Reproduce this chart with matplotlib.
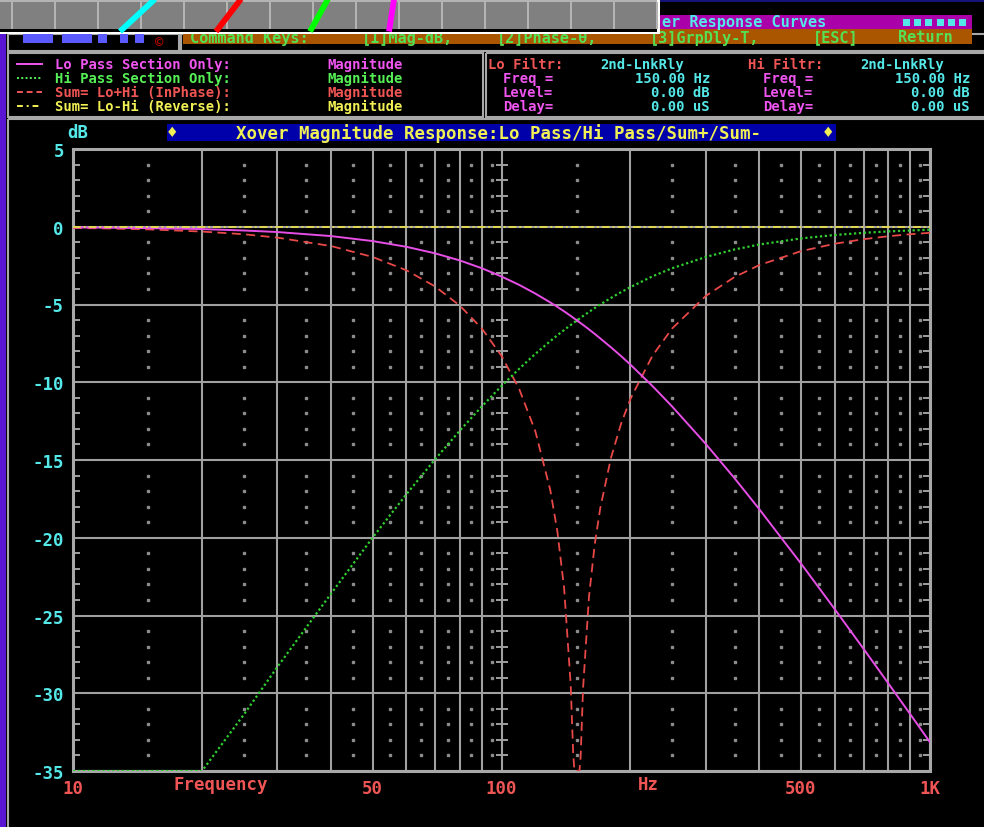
import matplotlib
matplotlib.use("Agg")
import matplotlib.pyplot as plt
from matplotlib.patches import Rectangle
from matplotlib.ticker import NullLocator

plt.rcParams["font.family"] = ["DejaVu Sans Mono", "DejaVu Sans"]
plt.rcParams["font.weight"] = "bold"
plt.rcParams["axes.unicode_minus"] = False

# 16-colour text-mode palette
BG = "#000000"
FRAME = "#a8a8a8"
GRID = "#a0a0a0"
CYAN = "#55e8e8"
MAGENTA = "#f055f0"
GREEN = "#55f055"
RED = "#f05555"
YELLOW = "#f0f055"
NAVY = "#0000aa"
FS = 12.5        # axis labels and title
PANEL_FS = 10    # tightly packed panel rows (14 px line pitch)

# crossover response, dB (display floor is -35 dB)
freq_hz = [10, 12, 15, 20, 25, 30, 40, 50, 60, 70, 80, 90, 100, 110, 120, 130,
           135, 140, 145, 147, 148, 150, 152, 153, 155, 160, 165, 170, 180, 190,
           200, 225, 250, 300, 350, 400, 500, 600, 700, 800, 900, 1000]
lo_pass_db = [-0.04, -0.06, -0.09, -0.15, -0.24, -0.34, -0.60, -0.92, -1.29,
              -1.71, -2.17, -2.67, -3.20, -3.74, -4.30, -4.87, -5.15, -5.44,
              -5.73, -5.85, -5.91, -6.02, -6.14, -6.20, -6.31, -6.60, -6.89,
              -7.18, -7.75, -8.31, -8.87, -10.24, -11.55, -13.98, -16.18,
              -18.18, -21.66, -24.61, -27.15, -29.38, -31.36, -33.15]
hi_pass_db = [-35.0, -35.0, -35.0, -35.0, -31.4, -28.3, -23.6, -20.0, -17.2,
              -14.95, -13.1, -11.55, -10.24, -9.13, -8.17, -7.35, -6.98, -6.64,
              -6.32, -6.20, -6.14, -6.02, -5.91, -5.85, -5.74, -5.48, -5.23,
              -5.00, -4.58, -4.21, -3.88, -3.19, -2.67, -1.94, -1.46, -1.14,
              -0.75, -0.53, -0.39, -0.30, -0.24, -0.19]
sum_inphase_db = [-0.08, -0.11, -0.17, -0.31, -0.48, -0.70, -1.24, -1.94, -2.80,
                  -3.84, -5.08, -6.55, -8.30, -10.44, -13.17, -16.95, -19.58,
                  -23.24, -29.40, -33.9, -35.0, -35.0, -35.0, -34.07, -29.69,
                  -23.81, -20.44, -18.10, -14.88, -12.69, -11.06, -8.30, -6.55,
                  -4.44, -3.23, -2.46, -1.57, -1.09, -0.80, -0.61, -0.48, -0.39]
rev_freq_hz = [10, 1000]
sum_reverse_db = [0.0, 0.0]

grid_freqs = [10, 20, 30, 40, 50, 60, 70, 80, 90, 100,
              200, 300, 400, 500, 600, 700, 800, 900, 1000]
freq_labels = {10: "10", 50: "50", 100: "100", 500: "500", 1000: "1K"}
db_ticks = [5, 0, -5, -10, -15, -20, -25, -30, -35]
dot_freqs = [15, 25, 35, 45, 55, 65, 75, 85, 95,
             150, 250, 350, 450, 550, 650, 750, 850, 950]
dot_levels = [v for v in range(-34, 5) if v % 5 != 0]

legend_rows = [
    ("Lo Pass Section Only:", MAGENTA, "-"),
    ("Hi Pass Section Only:", GREEN, (0, (1, 1.2))),
    ("Sum= Lo+Hi (InPhase):", RED, (0, (3, 2))),
    ("Sum= Lo-Hi (Reverse):", YELLOW, (0, (3, 2, 1, 2))),
]
info_labels = ["Freq =", "Level=", "Delay="]
lo_values = ["150.00 Hz", "0.00 dB", "0.00 uS"]
hi_values = ["150.00 Hz", "0.00 dB", "0.00 uS"]
command_keys = [("Command Keys:", 190), ("[1]Mag-dB,", 362), ("[2]Phase-θ,", 497),
                ("[3]GrpDly-T,", 650), ("[ESC]", 813), ("Return", 898)]

fig = plt.figure(figsize=(9.84, 8.28), dpi=100, facecolor=BG)

# screen furniture, drawn in pixel coordinates
deco = fig.add_axes([0, 0, 1, 1])
deco.set_xlim(0, 984)
deco.set_ylim(828, 0)
deco.axis("off")


def box(x0, y0, x1, y1, fc="none", ec="none", lw=1.5, z=2):
    deco.add_patch(Rectangle((x0, y0), x1 - x0, y1 - y0, facecolor=fc,
                             edgecolor=ec, linewidth=lw, zorder=z))


def dos(x, y, s, color, ha="left", size=FS, va="center", z=3):
    deco.text(x, y, s, color=color, ha=ha, va=va, fontsize=size,
              fontweight="bold", zorder=z)


# left purple rail and panel borders
box(0, 35, 5.5, 828, fc="#5a14d4")
box(7.5, 35, 179, 51.5, ec=FRAME)
box(181, 35, 995, 51.5, ec=FRAME)
box(7.5, 54, 483, 118, ec=FRAME)
box(485.5, 54, 995, 117.5, ec=FRAME)
box(7.5, 120, 995, 840, ec=FRAME)

# header bars
box(660, 0, 984, 3, fc="#141478")
box(660, 16, 972, 30, fc="#aa00aa")
dos(662, 23, "er Response Curves", CYAN, size=11)
for i in range(6):
    box(903 + 11.2 * i, 19.5, 910 + 11.2 * i, 26.5, fc=CYAN)
box(183, 30, 972, 45, fc="#aa5500")
for txt, x in command_keys:
    dos(x, 42.5, txt, "#55e055", va="baseline", size=11)

# logo remnants
for x0, x1 in [(23, 53), (62, 92), (98, 107), (120, 128), (135, 144)]:
    box(x0, 35, x1, 43.5, fc="#5a5aff")
deco.text(159, 43, "©", color="#b00000", ha="center", va="center", fontsize=10,
          fontweight="bold")

# overlapping grey palette window at the top
box(0, 0, 660, 35, fc="white", z=6)
box(0, 0, 657, 30, fc="#808080", z=6)
box(0, 0, 657, 3, fc="#b4b4b4", z=6)
box(0, 30, 657, 32.5, fc=BG, z=6)
for x in range(12, 658, 43):
    box(x - 1, 3, x + 1, 30, fc="#b4b4b4", z=6)
for (xa, xb), c in zip([(120, 155), (216, 241), (310, 328), (389, 394)],
                       ["#00ffff", "#ff0000", "#00ff00", "#ff00ff"]):
    deco.plot([xa, xb], [32.5, 0], color=c, lw=4.2, solid_capstyle="butt", zorder=7)

# legend panel
row_y = [65, 79, 93, 107]
for (label, color, ls), y in zip(legend_rows, row_y):
    deco.plot([17, 42], [y, y], color=color, lw=1.4, linestyle=ls, zorder=3)
    dos(55, y, label, color, size=PANEL_FS)
    dos(327, y, "Magnitude", color, size=PANEL_FS)

# filter settings panel
dos(488, row_y[0], "Lo Filtr:", RED, size=PANEL_FS)
dos(600, row_y[0], "2nd-LnkRly", CYAN, size=PANEL_FS)
dos(748, row_y[0], "Hi Filtr:", RED, size=PANEL_FS)
dos(860, row_y[0], "2nd-LnkRly", CYAN, size=PANEL_FS)
for lab, lv, hv, y in zip(info_labels, lo_values, hi_values, row_y[1:]):
    dos(503, y, lab, MAGENTA, size=PANEL_FS)
    dos(710, y, lv, CYAN, ha="right", size=PANEL_FS)
    dos(763, y, lab, MAGENTA, size=PANEL_FS)
    dos(970, y, hv, CYAN, ha="right", size=PANEL_FS)

# plot title bar
box(167, 125, 836, 142, fc=NAVY)
dos(172, 133.5, "♦", YELLOW, ha="center")
dos(499, 133.5, "Xover Magnitude Response:Lo Pass/Hi Pass/Sum+/Sum-", YELLOW,
    ha="center")
dos(828, 133.5, "♦", YELLOW, ha="center")
dos(78, 133.5, "dB", CYAN, ha="center")
dos(221, 785, "Frequency", RED, ha="center")
dos(648, 785, "Hz", RED, ha="center")

# response plot
ax = fig.add_axes([73 / 984, 56 / 828, 857 / 984, 622 / 828])
ax.set_facecolor("none")
ax.set_xscale("log")
ax.set_xlim(10, 1000)
ax.set_ylim(-35, 5)
ax.set_xticks(grid_freqs, labels=[freq_labels.get(f, "") for f in grid_freqs])
ax.xaxis.set_minor_locator(NullLocator())
ax.set_yticks(db_ticks, labels=[str(v) for v in db_ticks])
ax.set_yticks(dot_levels, minor=True)
ax.set_axisbelow(True)
ax.grid(True, which="major", color=GRID, linewidth=1.5)
ax.tick_params(which="major", length=0, labelsize=FS)
ax.tick_params(axis="x", labelcolor=RED, pad=6)
ax.tick_params(axis="y", labelcolor=CYAN, pad=6.5)
ax.tick_params(axis="y", which="minor", direction="in", length=5, width=1.4,
               color=GRID, left=True, right=True)
for sp in ax.spines.values():
    sp.set_color(FRAME)
    sp.set_linewidth(2.2)

dx = [f for f in dot_freqs for _ in dot_levels]
dy = [v for _ in dot_freqs for v in dot_levels]
ax.plot(dx, dy, ls="none", marker="s", ms=1.5, color="#8c8c8c", zorder=1.5)
ax.plot([100] * len(dot_levels), dot_levels, ls="none", marker="_", ms=8,
        mew=1.4, color=GRID, zorder=1.5)

ax.plot(freq_hz, sum_inphase_db, color="#e84848", lw=1.3, ls=(0, (5, 3)), zorder=3)
ax.plot(freq_hz, hi_pass_db, color="#30d030", lw=1.6, ls=(0, (1, 1.2)), zorder=3)
ax.plot(freq_hz, lo_pass_db, color="#e64ee6", lw=1.4, zorder=4)
ax.plot(rev_freq_hz, sum_reverse_db, color="#e0d850", lw=1.4,
        ls=(0, (4, 1.5, 1, 1.5)), zorder=5)

fig.savefig("out.png", dpi=100, facecolor=BG)
